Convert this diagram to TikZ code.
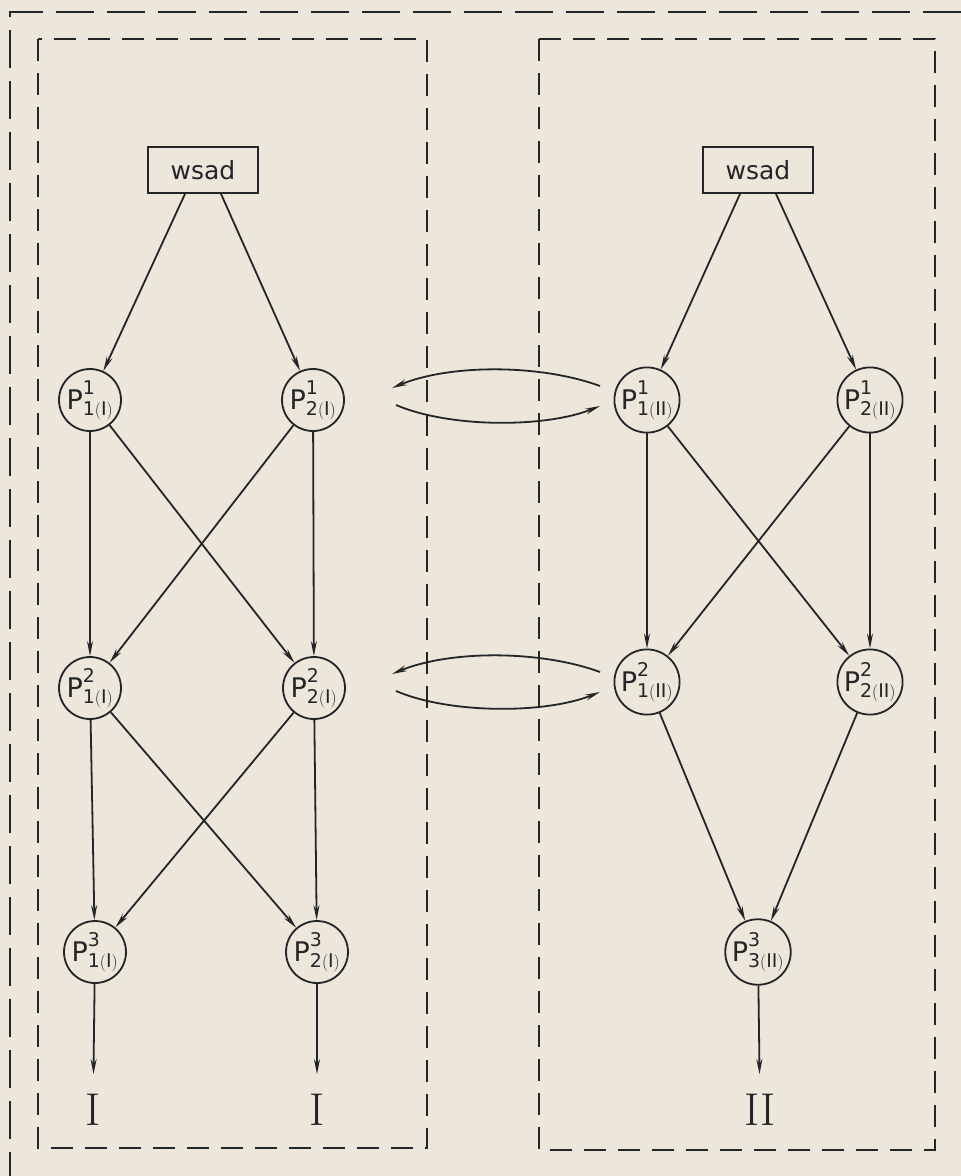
\documentclass[tikz,border=0pt]{standalone}
\usepackage{fontspec}
\setsansfont{DejaVu Sans}
\usetikzlibrary{arrows.meta,calc}
\definecolor{paper}{RGB}{236,230,219}
\definecolor{ink}{RGB}{35,38,40}
\begin{document}
\begin{tikzpicture}[x=1pt,y=-1pt,
  proc/.style={circle, draw=ink, line width=1.8pt, minimum size=62pt, inner sep=0pt, text=ink, font=\fontsize{27}{29}\selectfont},
  inbox/.style={draw=ink, line width=1.8pt, minimum width=110pt, minimum height=46pt, text=ink, font=\sffamily\fontsize{25}{27}\selectfont},
  lab/.style={inner sep=0pt, text=ink, font=\fontsize{46}{48}\selectfont},
  arr/.style={draw=ink, line width=1.8pt, -{Stealth[length=15pt,width=6pt]}},
  outerdash/.style={draw=ink, line width=1.8pt, dash pattern=on 38pt off 13pt},
  innerdash/.style={draw=ink, line width=1.8pt, dash pattern=on 22pt off 12pt},
]
\fill[paper] (0,0) rectangle (961,1176);
\useasboundingbox (0,0) rectangle (961,1176);
% frames
\draw[outerdash] (961,12) -- (10,12) -- (10,1176);
\draw[innerdash] (38,39) rectangle (427,1148);
\draw[innerdash] (539,39) rectangle (935,1150);
% left block
\node[inbox] (wL) at (203,170) {wsad};
\node[proc] (p11) at (90,400) {$\mathsf{P}^{\mathsf{1}}_{\mathsf{1(I)}}$};
\node[proc] (p21) at (313,400) {$\mathsf{P}^{\mathsf{1}}_{\mathsf{2(I)}}$};
\node[proc] (p12) at (90,688) {$\mathsf{P}^{\mathsf{2}}_{\mathsf{1(I)}}$};
\node[proc] (p22) at (314,688) {$\mathsf{P}^{\mathsf{2}}_{\mathsf{2(I)}}$};
\node[proc] (p13) at (95,952) {$\mathsf{P}^{\mathsf{3}}_{\mathsf{1(I)}}$};
\node[proc] (p23) at (317,952) {$\mathsf{P}^{\mathsf{3}}_{\mathsf{2(I)}}$};
\node[lab] (lI1) at (93,1110) {I};
\node[lab] (lI2) at (317,1110) {I};
% right block
\node[inbox] (wR) at (758,170) {wsad};
\node[proc] (q11) at (647,400) {$\mathsf{P}^{\mathsf{1}}_{\mathsf{1(II)}}$};
\node[proc] (q21) at (870,400) {$\mathsf{P}^{\mathsf{1}}_{\mathsf{2(II)}}$};
\node[proc] (q12) at (647,682) {$\mathsf{P}^{\mathsf{2}}_{\mathsf{1(II)}}$};
\node[proc] (q22) at (870,682) {$\mathsf{P}^{\mathsf{2}}_{\mathsf{2(II)}}$};
\node[proc] (q3) at (758,952) {$\mathsf{P}^{\mathsf{3}}_{\mathsf{3(II)}}$};
\node[lab] (lII) at (760,1110) {II};
% left edges
\draw[arr] ([xshift=-18pt]wL.south) -- (p11);
\draw[arr] ([xshift=18pt]wL.south) -- (p21);
\draw[arr] (p11) -- (p12);
\draw[arr] (p11) -- (p22);
\draw[arr] (p21) -- (p12);
\draw[arr] (p21) -- (p22);
\draw[arr] (p12) -- (p13);
\draw[arr] (p12) -- (p23);
\draw[arr] (p22) -- (p13);
\draw[arr] (p22) -- (p23);
\draw[arr, shorten >=20pt] (p13) -- (lI1);
\draw[arr, shorten >=20pt] (p23) -- (lI2);
% right edges
\draw[arr] ([xshift=-18pt]wR.south) -- (q11);
\draw[arr] ([xshift=18pt]wR.south) -- (q21);
\draw[arr] (q11) -- (q12);
\draw[arr] (q11) -- (q22);
\draw[arr] (q21) -- (q12);
\draw[arr] (q21) -- (q22);
\draw[arr] (q12) -- (q3);
\draw[arr] (q22) -- (q3);
\draw[arr, shorten >=20pt] (q3) -- (lII);
% exchange arrows
\coordinate (u1s) at (600,386);
\coordinate (u1e) at (392,388);
\coordinate (d1s) at (396,405);
\coordinate (d1e) at (600,406);
\draw[arr] (u1s) .. controls (540,364) and (450,364) .. (u1e);
\draw[arr] (d1s) .. controls (450,428) and (545,428) .. (d1e);
\coordinate (u2s) at (600,672);
\coordinate (u2e) at (392,674);
\coordinate (d2s) at (396,691);
\coordinate (d2e) at (600,692);
\draw[arr] (u2s) .. controls (540,650) and (450,650) .. (u2e);
\draw[arr] (d2s) .. controls (450,714) and (545,714) .. (d2e);
\end{tikzpicture}
\end{document}
